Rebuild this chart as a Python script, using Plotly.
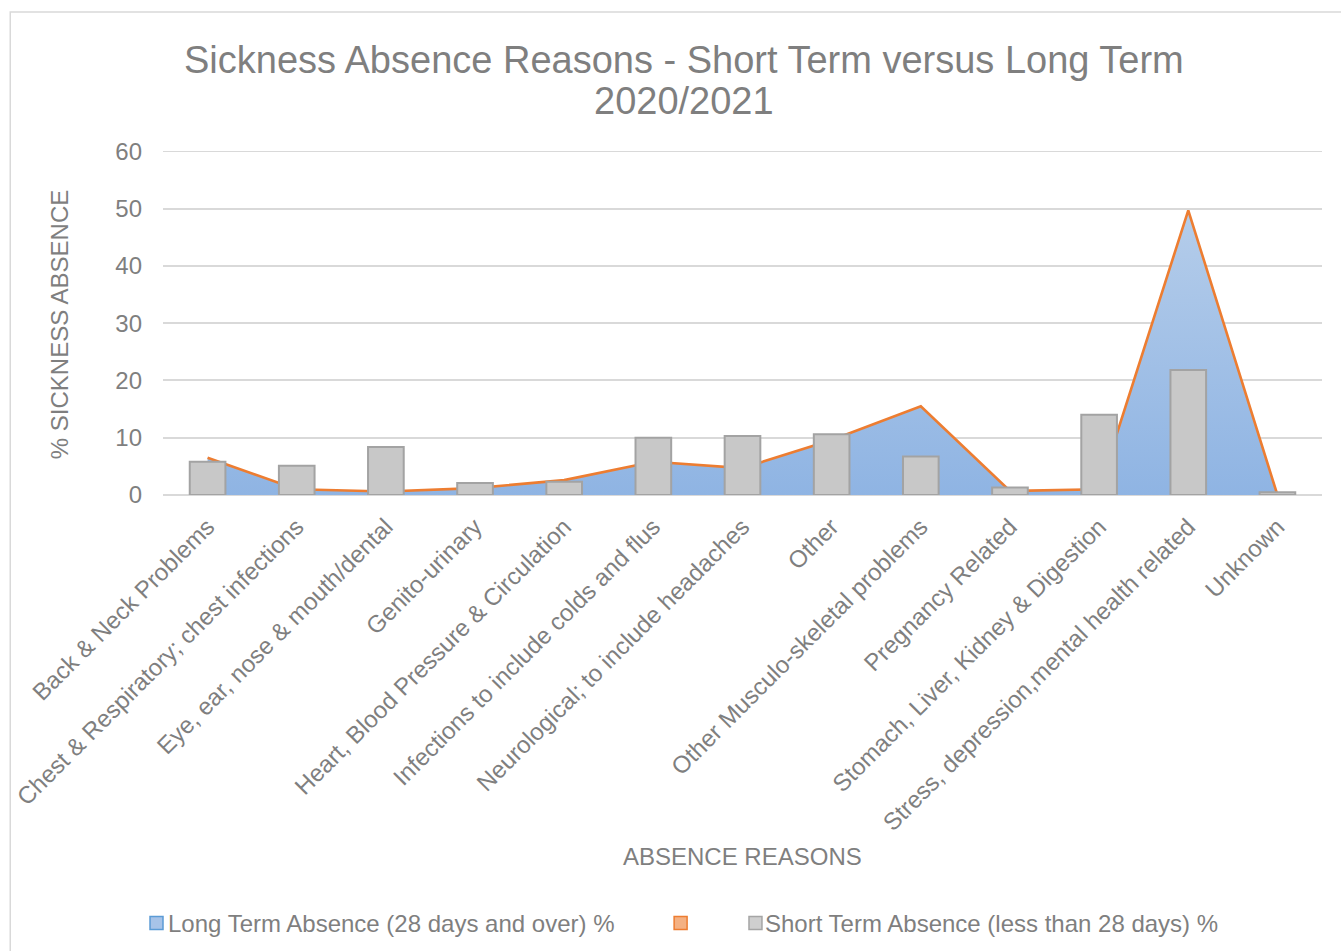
import plotly.graph_objects as go

# Absence reasons and percentages
categories = [
    "Back & Neck Problems",
    "Chest & Respiratory; chest infections",
    "Eye, ear, nose & mouth/dental",
    "Genito-urinary",
    "Heart, Blood Pressure & Circulation",
    "Infections to include colds and flus",
    "Neurological; to include headaches",
    "Other",
    "Other Musculo-skeletal problems",
    "Pregnancy Related",
    "Stomach, Liver, Kidney & Digestion",
    "Stress, depression,mental health related",
    "Unknown",
]
long_term = [6.5, 1.0, 0.6, 1.2, 2.6, 5.8, 4.7, 9.6, 15.5, 0.7, 1.0, 49.7, 0.0]
short_term = [5.8, 5.1, 8.4, 2.1, 2.3, 10.0, 10.3, 10.6, 6.7, 1.3, 14.0, 21.8, 0.5]
y_ticks = [0, 10, 20, 30, 40, 50, 60]

title_line1 = "Sickness Absence Reasons - Short Term versus Long Term"
title_line2 = "2020/2021"
y_title = "% SICKNESS ABSENCE"
x_title = "ABSENCE REASONS"
long_name = "Long Term Absence (28 days and over) %"
short_name = "Short Term Absence (less than 28 days) %"

FONT = "Liberation Sans, Arial, sans-serif"
GREY_TXT = "#7f7f7f"
GRID = "#d9d9d9"
ORANGE = "#ed7d31"
TXT = 24

# Plot area in pixels (figure 1341 x 951)
W, H = 1341, 951
PL, PR, PT, PB = 161, 1322, 151, 495
Y_MAX = 60.05


def px_x(x):
    return (x - PL) / (PR - PL)


def px_y(y):
    return (PB - y) / (PB - PT)


fig = go.Figure()

# Long term area (blue gradient fill)
fig.add_trace(go.Scatter(
    x=categories, y=long_term, mode="lines",
    line=dict(width=0, color="rgba(0,0,0,0)"),
    fill="tozeroy",
    fillgradient=dict(type="vertical",
                      colorscale=[[0, "#8fb4e3"], [1, "#b5cdea"]]),
    showlegend=False, hoverinfo="x+y", name=long_name,
))
# Orange outline along the top of the area
fig.add_trace(go.Scatter(
    x=categories, y=long_term, mode="lines",
    line=dict(width=2.6, color=ORANGE),
    showlegend=False, hoverinfo="skip",
))
# Short term bars, on an overlaid axis so they sit above the area
fig.add_trace(go.Bar(
    x=categories, y=short_term, xaxis="x2", yaxis="y2",
    marker=dict(color="#c8c8c8", line=dict(color="#a3a3a3", width=2)),
    width=0.4, showlegend=False, name=short_name,
))

rng = [-0.5, len(categories) - 0.5]
fig.update_layout(
    width=W, height=H,
    margin=dict(l=PL, r=W - PR, t=PT, b=H - PB),
    paper_bgcolor="white", plot_bgcolor="white",
    font=dict(family=FONT, color=GREY_TXT, size=TXT),
    xaxis=dict(
        type="category", range=rng, tickangle=-45,
        tickfont=dict(size=TXT, color=GREY_TXT, family=FONT),
        showgrid=False, showline=False, ticks="", ticklabelstandoff=12,
        zeroline=False,
    ),
    yaxis=dict(
        range=[0, Y_MAX], tickvals=y_ticks, showgrid=True, gridcolor=GRID,
        gridwidth=1.5, zeroline=True, zerolinecolor=GRID, zerolinewidth=2,
        showline=False, ticks="", ticklabelstandoff=20,
        tickfont=dict(size=TXT, color=GREY_TXT, family=FONT),
    ),
    xaxis2=dict(type="category", range=rng, overlaying="x", visible=False),
    yaxis2=dict(range=[0, Y_MAX], overlaying="y", visible=False),
    bargap=0.6,
)

annotations = [
    dict(text=title_line1, x=px_x(683), y=px_y(60), xref="paper", yref="paper",
         xanchor="center", yanchor="middle", showarrow=False,
         font=dict(size=38, color=GREY_TXT, family=FONT)),
    dict(text=title_line2, x=px_x(683), y=px_y(101), xref="paper", yref="paper",
         xanchor="center", yanchor="middle", showarrow=False,
         font=dict(size=38, color=GREY_TXT, family=FONT)),
    dict(text=y_title, x=px_x(57), y=px_y(325), xref="paper", yref="paper",
         xanchor="center", yanchor="middle", textangle=-90, showarrow=False,
         font=dict(size=TXT, color=GREY_TXT, family=FONT)),
    dict(text=x_title, x=px_x(741), y=px_y(856), xref="paper", yref="paper",
         xanchor="center", yanchor="middle", showarrow=False,
         font=dict(size=TXT, color=GREY_TXT, family=FONT)),
    dict(text=long_name, x=px_x(164), y=px_y(923), xref="paper", yref="paper",
         xanchor="left", yanchor="middle", showarrow=False,
         font=dict(size=TXT, color=GREY_TXT, family=FONT)),
    dict(text=short_name, x=px_x(762), y=px_y(923), xref="paper", yref="paper",
         xanchor="left", yanchor="middle", showarrow=False,
         font=dict(size=TXT, color=GREY_TXT, family=FONT)),
]

shapes = [
    # outer chart border
    dict(type="rect", xref="paper", yref="paper",
         x0=px_x(8), x1=px_x(1350), y0=px_y(965), y1=px_y(12),
         line=dict(color=GRID, width=1.5), fillcolor="rgba(0,0,0,0)",
         layer="below"),
    # gridline at the top of the value axis
    dict(type="line", xref="paper", yref="y", x0=0, x1=1,
         y0=y_ticks[-1], y1=y_ticks[-1],
         line=dict(color=GRID, width=1.5), layer="below"),
]
# legend swatches
for x0, fill, edge in [(148, "#a7c3e8", "#5b9bd5"),
                       (673, "#f4b183", ORANGE),
                       (748, "#cfcfcf", "#a5a5a5")]:
    shapes.append(dict(type="rect", xref="paper", yref="paper",
                       x0=px_x(x0), x1=px_x(x0 + 13),
                       y0=px_y(929.5), y1=px_y(916.5),
                       line=dict(color=edge, width=1.5), fillcolor=fill))

fig.update_layout(annotations=annotations, shapes=shapes)

fig.write_html("out.html")
